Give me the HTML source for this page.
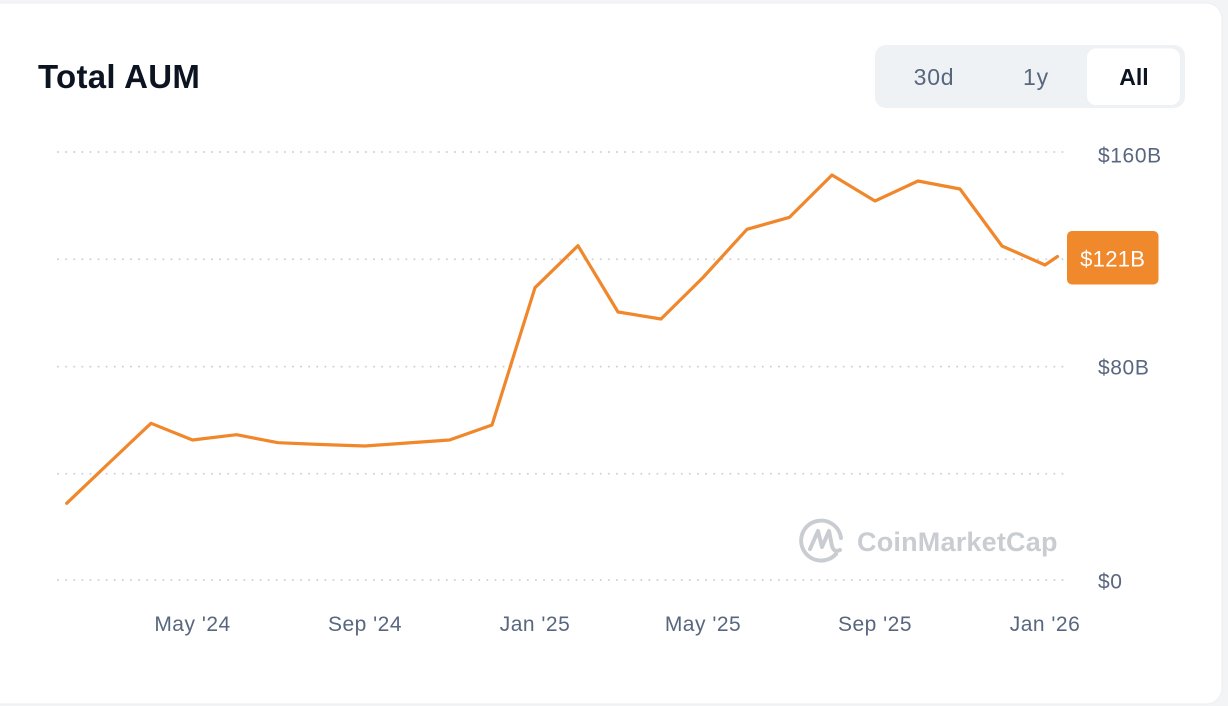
<!DOCTYPE html>
<html>
<head>
<meta charset="utf-8">
<style>
  html, body { margin:0; padding:0; width:1228px; height:706px; overflow:hidden; background:#f3f4f6; }
  svg { display:block; }
  text { font-family: "Liberation Sans", sans-serif; }
</style>
</head>
<body>
<svg width="1228" height="706" viewBox="0 0 1228 706" xmlns="http://www.w3.org/2000/svg">
  <!-- card -->
  <rect x="-20" y="3" width="1242" height="701" rx="16" ry="16" fill="#ffffff" stroke="#eceef1" stroke-width="1"/>

  <!-- title -->
  <text x="38" y="88" font-size="33" font-weight="bold" fill="#0d1421" letter-spacing="0.3">Total AUM</text>

  <!-- toggle -->
  <rect x="875" y="45" width="310" height="63" rx="11" fill="#eff2f5"/>
  <rect x="1087" y="48.5" width="93" height="56.5" rx="9" fill="#ffffff"/>
  <text x="934" y="85" font-size="23" fill="#58667e" text-anchor="middle" letter-spacing="0.8">30d</text>
  <text x="1036" y="85" font-size="23" fill="#58667e" text-anchor="middle" letter-spacing="0.8">1y</text>
  <text x="1134" y="85" font-size="23" font-weight="bold" fill="#0d1421" text-anchor="middle">All</text>

  <!-- gridlines -->
  <g stroke="#cfd4da" stroke-width="2" stroke-dasharray="0.1 8" stroke-linecap="round">
    <line x1="58" y1="152" x2="1066" y2="152"/>
    <line x1="58" y1="259.3" x2="1066" y2="259.3"/>
    <line x1="58" y1="366.6" x2="1066" y2="366.6"/>
    <line x1="58" y1="473.8" x2="1066" y2="473.8"/>
    <line x1="58" y1="580" x2="1066" y2="580"/>
  </g>

  <!-- y labels -->
  <g font-size="21" fill="#58667e" letter-spacing="0.6">
    <text x="1098" y="162.5">$160B</text>
    <text x="1098" y="374.5">$80B</text>
    <text x="1098" y="588.5">$0</text>
  </g>

  <!-- x labels -->
  <g font-size="21" fill="#58667e" text-anchor="middle" letter-spacing="0.5">
    <text x="192.5" y="631">May '24</text>
    <text x="365" y="631">Sep '24</text>
    <text x="535" y="631">Jan '25</text>
    <text x="703" y="631">May '25</text>
    <text x="875" y="631">Sep '25</text>
    <text x="1045" y="631">Jan '26</text>
  </g>

  <!-- watermark -->
  <g>
    <path d="M 836 554 A 20 20 0 1 1 841 538" fill="none" stroke="#c9cdd2" stroke-width="4" stroke-linecap="round"/>
    <path d="M 810 549 L 818 531 L 822 547 L 829 531 L 832 546 Q 834 553 840 550" fill="none" stroke="#c9cdd2" stroke-width="4" stroke-linecap="round" stroke-linejoin="round"/>
    <text x="857" y="551" font-size="27" font-weight="bold" fill="#c9cdd2" letter-spacing="0.2">CoinMarketCap</text>
  </g>

  <!-- series -->
  <polyline fill="none" stroke="#f0872b" stroke-width="3.2" stroke-linejoin="round" stroke-linecap="round"
    points="66.7,503.3 109,463 151,423.3 192.5,440 236.5,434.7 278,442.7 321,444.5 365,446 407,443 449.5,440 492,425 535,287.7 578,245.7 618,312 661,319 703,277.5 747,229.3 789.5,217.3 832,175 875,201 918,181 960,189 1002,246 1045,265 1057.5,256.5"/>

  <!-- badge -->
  <rect x="1067" y="231" width="91.5" height="53.5" rx="5" fill="#f0882c"/>
  <text x="1112.7" y="266.5" font-size="22" fill="#ffffff" text-anchor="middle" letter-spacing="0.3">$121B</text>
</svg>
</body>
</html>
